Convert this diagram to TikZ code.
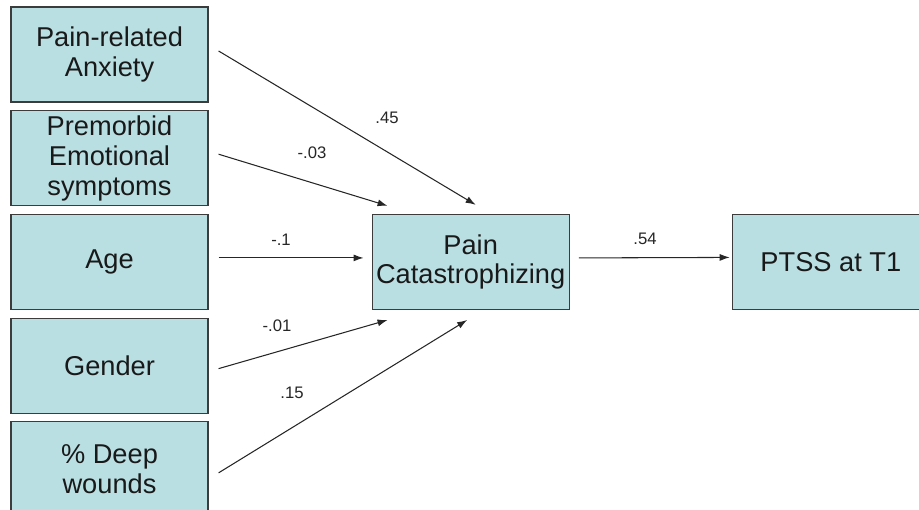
\documentclass[tikz,border=0pt]{standalone}
\usepackage{fontspec}
\setmainfont{Liberation Sans}
\usetikzlibrary{positioning, calc, arrows.meta}
\definecolor{boxfill}{RGB}{185,223,227}
\definecolor{boxline}{RGB}{60,60,60}

\tikzset{
  var/.style={draw=boxline, line width=0.7pt, fill=boxfill, minimum width=3.94cm,
    minimum height=1.9cm, inner sep=0pt, align=center, text=black!90,
    font=\fontsize{15.5}{17}\selectfont},
  effect/.style={-{Latex[length=2mm,width=1.4mm]}, line width=0.6pt, black!85},
  coef/.style={inner sep=0pt, text=black!85, font=\fontsize{9.5}{11}\selectfont}
}

\begin{document}
\begin{tikzpicture}[x=0.02cm, y=-0.02cm]
    \useasboundingbox (0,0) rectangle (919,510);
    \clip (0,0) rectangle (919,510);
    % predictors
    \node[var] (anx) at (109.5,54.5) {Pain-related\\Anxiety};
    \node[var, below=0.15cm of anx] (emo) {Premorbid\\Emotional\\symptoms};
    \node[var, below=0.15cm of emo] (age) {Age};
    \node[var, below=0.15cm of age] (gen) {Gender};
    \node[var, below=0.15cm of gen] (wnd) {\% Deep\\wounds};
    % mediator and outcome
    \node[var, right=3.26cm of age] (pcs) {Pain\\Catastrophizing};
    \node[var, right=3.24cm of pcs] (ptss) {PTSS at T1};
    % paths
    \draw[effect] ($(anx.east)+(10,-3.5)$) -- ($(pcs.north)+(5,-9)$);
    \draw[effect] ($(emo.east)+(10,-4)$) -- ($(pcs.north west)+(16,-8)$);
    \draw[effect] ($(age.east)+(10,-4)$) -- ($(pcs.west)+(-8,-4)$);
    \draw[effect] ($(gen.east)+(10,3)$) -- ($(pcs.south west)+(16,10)$);
    \draw[effect] ($(wnd.east)+(10,3.5)$) -- ($(pcs.south)+(-3.5,10)$);
    \draw[effect] ($(pcs.east)+(9,-4)$) -- ($(ptss.west)+(-2,-4.5)$);
    % coefficients
    \node[coef] (c1) at (387,118) {.45};
    \node[coef] (c2) at (312,153) {-.03};
    \node[coef] (c3) at (281,240) {-.1};
    \node[coef] (c4) at (277,326) {-.01};
    \node[coef] (c5) at (292,393) {.15};
    \node[coef] (c6) at (645,239) {.54};
\end{tikzpicture}
\end{document}
